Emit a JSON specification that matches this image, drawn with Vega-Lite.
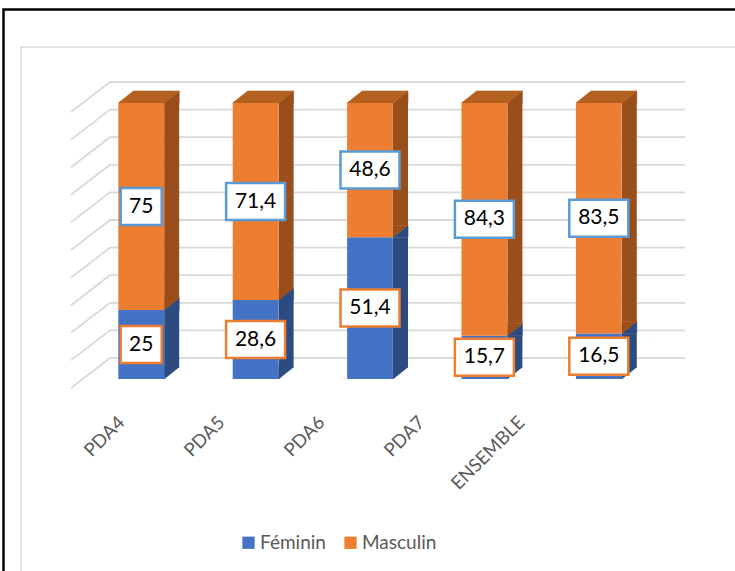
{
  "$schema": "https://vega.github.io/schema/vega-lite/v6.json",
  "width": 572,
  "height": 276,
  "autosize": {"type": "none"},
  "padding": {"left": 84, "top": 103, "right": 79, "bottom": 192},
  "background": "white",
  "config": {"view": {"stroke": null}},
  "datasets": {
    "main": [
      {"cat": "PDA4", "sexe": "Féminin", "value": 25},
      {"cat": "PDA4", "sexe": "Masculin", "value": 75},
      {"cat": "PDA5", "sexe": "Féminin", "value": 28.6},
      {"cat": "PDA5", "sexe": "Masculin", "value": 71.4},
      {"cat": "PDA6", "sexe": "Féminin", "value": 51.4},
      {"cat": "PDA6", "sexe": "Masculin", "value": 48.6},
      {"cat": "PDA7", "sexe": "Féminin", "value": 15.7},
      {"cat": "PDA7", "sexe": "Masculin", "value": 84.3},
      {"cat": "ENSEMBLE", "sexe": "Féminin", "value": 16.5},
      {"cat": "ENSEMBLE", "sexe": "Masculin", "value": 83.5}
    ],
    "grid": [
      {"v": 0}, {"v": 10}, {"v": 20}, {"v": 30}, {"v": 40}, {"v": 50},
      {"v": 60}, {"v": 70}, {"v": 80}, {"v": 90}, {"v": 100}
    ]
  },
  "resolve": {"scale": {"x": "independent"}},
  "layer": [
    {
      "data": {"values": [{}]},
      "mark": {"type": "point", "shape": "M-366.5,-231.5H440V370H-366.5Z", "size": 4, "filled": false, "stroke": "#000000", "strokeWidth": 2.5, "opacity": 1}
    },
    {
      "data": {"values": [{}]},
      "mark": {"type": "point", "shape": "M-349,-194H440V370H-349Z", "size": 4, "filled": false, "stroke": "#D9D9D9", "strokeWidth": 1.5, "opacity": 1}
    },
    {
      "data": {"name": "grid"},
      "mark": {"type": "point", "shape": "M-299,9L-260,-21L315,-21", "size": 4, "filled": false, "stroke": "#D9D9D9", "strokeWidth": 1.8, "opacity": 1},
      "encoding": {
        "y": {"field": "v", "type": "quantitative", "scale": {"domain": [0, 100], "nice": false}, "axis": null}
      }
    },
    {
      "data": {"name": "main"},
      "transform": [
        {"stack": "value", "groupby": ["cat"], "sort": [{"field": "sexe", "order": "ascending"}], "as": ["v0", "v1"]},
        {"calculate": "(datum.v0 + datum.v1) / 2", "as": "mid"},
        {"calculate": "replace(format(datum.value, '~g'), '.', ',')", "as": "label"}
      ],
      "encoding": {
        "x": {"field": "cat", "type": "nominal", "sort": ["PDA4", "PDA5", "PDA6", "PDA7", "ENSEMBLE"], "scale": {"type": "band", "paddingInner": 0.6, "paddingOuter": 0.3}, "axis": null}
      },
      "layer": [
        {
          "mark": {"type": "bar", "width": 15, "xOffset": 30.5, "y2Offset": -12},
          "encoding": {
            "y": {"field": "v1", "type": "quantitative", "scale": {"domain": [0, 100], "nice": false}, "axis": null},
            "y2": {"field": "v0"},
            "fill": {"condition": {"test": "datum.sexe === 'Féminin'", "value": "#2C4B80"}, "value": "#9A4E1B"}
          }
        },
        {
          "mark": {"type": "point", "shape": "M23,0L38,-12L38,0Z", "size": 4, "filled": true, "opacity": 1, "strokeWidth": 0.6},
          "encoding": {
            "y": {"field": "v1", "type": "quantitative"},
            "fill": {"condition": {"test": "datum.sexe === 'Féminin'", "value": "#2C4B80"}, "value": "#9A4E1B"},
            "stroke": {"condition": {"test": "datum.sexe === 'Féminin'", "value": "#2C4B80"}, "value": "#9A4E1B"}
          }
        },
        {
          "mark": {"type": "point", "shape": "M23,-12L23,0L38,-12Z", "size": 4, "filled": true, "opacity": 1, "strokeWidth": 0.6},
          "encoding": {
            "y": {"field": "v0", "type": "quantitative"},
            "fill": {"condition": {"test": "datum.sexe === 'Féminin'", "value": "#2C4B80"}, "value": "#9A4E1B"},
            "stroke": {"condition": {"test": "datum.sexe === 'Féminin'", "value": "#2C4B80"}, "value": "#9A4E1B"}
          }
        },
        {
          "transform": [{"filter": "datum.sexe === 'Masculin'"}],
          "mark": {"type": "point", "shape": "M-22.9,0L22.9,0L38,-12L-7.8,-12Z", "size": 4, "filled": true, "opacity": 1, "fill": "#B4601E", "stroke": "#B4601E", "strokeWidth": 0.6},
          "encoding": {
            "y": {"field": "v1", "type": "quantitative"}
          }
        },
        {
          "mark": {"type": "bar"},
          "encoding": {
            "y": {"field": "v1", "type": "quantitative"},
            "y2": {"field": "v0"},
            "color": {
              "field": "sexe",
              "type": "nominal",
              "scale": {"domain": ["Féminin", "Masculin"], "range": ["#4472C4", "#ED7D31"]},
              "legend": {
                "title": null,
                "orient": "none",
                "direction": "horizontal",
                "legendX": 155,
                "legendY": 430,
                "symbolType": "square",
                "symbolSize": 150,
                "symbolStrokeWidth": 0,
                "labelFont": "Lato",
                "labelFontSize": 19,
                "labelColor": "#595959",
                "labelOffset": 2,
                "columnPadding": 15
              }
            }
          }
        },
        {
          "mark": {"type": "point", "size": 4, "filled": false, "fill": "#FFFFFF", "opacity": 1, "strokeWidth": 2.5},
          "encoding": {
            "y": {"field": "mid", "type": "quantitative"},
            "shape": {"condition": {"test": "length(datum.label) > 2", "value": "M-29.5,-18.5H29.5V18.5H-29.5Z"}, "value": "M-20.5,-18.5H20.5V18.5H-20.5Z"},
            "stroke": {"condition": {"test": "datum.sexe === 'Féminin'", "value": "#ED7D31"}, "value": "#5B9BD5"}
          }
        },
        {
          "mark": {"type": "text", "font": "Lato", "fontSize": 21, "color": "#000000", "align": "center", "baseline": "middle"},
          "encoding": {
            "y": {"field": "mid", "type": "quantitative"},
            "text": {"field": "label"}
          }
        }
      ]
    },
    {
      "data": {"name": "main"},
      "mark": {"type": "point", "opacity": 0},
      "encoding": {
        "x": {
          "field": "cat",
          "type": "nominal",
          "sort": ["PDA4", "PDA5", "PDA6", "PDA7", "ENSEMBLE"],
          "scale": {"type": "point", "range": [37, 437], "padding": 0},
          "axis": {
            "title": null,
            "orient": "bottom",
            "labelAngle": -45,
            "labelAlign": "right",
            "labelBaseline": "middle",
            "labelPadding": 40,
            "ticks": false,
            "domain": false,
            "grid": false,
            "labelFont": "Lato",
            "labelFontSize": 18.5,
            "labelColor": "#595959"
          }
        }
      }
    }
  ]
}
